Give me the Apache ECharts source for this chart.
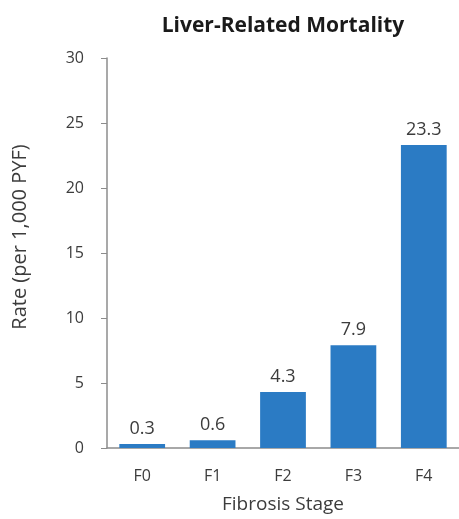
<!DOCTYPE html>
<html>
<head>
<meta charset="utf-8">
<script src="https://cdn.jsdelivr.net/npm/echarts@6/dist/echarts.min.js"></script>
<style>
  html, body { margin: 0; padding: 0; background: #fff; }
  #chart { width: 459px; height: 519px; }
</style>
</head>
<body>
<div id="chart"></div>
<script>
const stages = ['F0', 'F1', 'F2', 'F3', 'F4']
const rates = [0.3, 0.6, 4.3, 7.9, 23.3]

const textColor = '#3c3c3c'
const axisColor = '#8c8c8c'
const font = "'Open Sans', 'Noto Sans', sans-serif"

const chart = echarts.init(document.getElementById('chart'))

chart.setOption({
  backgroundColor: '#fff',
  animation: false,
  title: {
    text: 'Liver-Related Mortality',
    left: 278,
    textAlign: 'center',
    top: 11,
    textStyle: { fontFamily: font, fontSize: 21, fontWeight: 'bold', color: '#1a1a1a' }
  },
  grid: { left: 107, right: -5, top: 58, bottom: 70 },
  xAxis: {
    type: 'category',
    data: stages,
    axisLine: { lineStyle: { color: axisColor, width: 1.5 } },
    axisTick: { show: false },
    axisLabel: { color: textColor, fontFamily: font, fontSize: 16, margin: 20 },
    name: 'Fibrosis Stage',
    nameLocation: 'middle',
    nameGap: 47,
    nameTextStyle: { color: textColor, fontFamily: font, fontSize: 19 }
  },
  yAxis: {
    type: 'value',
    min: 0,
    max: 30,
    interval: 5,
    axisLine: { show: true, lineStyle: { color: axisColor, width: 1.5 } },
    axisTick: { show: true, length: 6, lineStyle: { color: axisColor } },
    splitLine: { show: false },
    axisLabel: { color: textColor, fontFamily: font, fontSize: 16, margin: 23 },
    name: 'Rate (per 1,000 PYF)',
    nameLocation: 'middle',
    nameGap: 77,
    nameTextStyle: { color: textColor, fontFamily: font, fontSize: 20, padding: [0, 0, 0, 32] }
  },
  series: [{
    type: 'bar',
    data: rates,
    barWidth: '65%',
    itemStyle: { color: '#2b7bc4' },
    label: {
      show: true,
      position: 'top',
      distance: 6,
      color: textColor,
      fontFamily: font,
      fontSize: 18
    }
  }]
})
</script>
</body>
</html>
